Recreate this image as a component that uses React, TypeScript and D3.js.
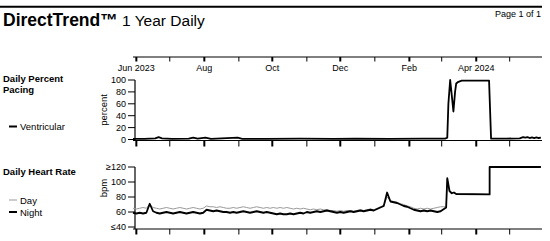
import React from 'react';
import * as d3 from 'd3';

// days counted from 29 May 2023
const hrDays = [
  0, 3, 6, 9, 12, 15, 18, 21, 24, 27,
  30, 33, 36, 39, 42, 45, 48, 51, 54, 57,
  60, 63, 66, 69, 72, 75, 78, 81, 84, 87,
  90, 93, 96, 99, 102, 105, 108, 111, 114, 117,
  120, 123, 126, 129, 132, 135, 138, 141, 144, 147,
  150, 153, 156, 159, 162, 165, 168, 171, 174, 177,
  180, 183, 186, 189, 192, 195, 198, 201, 204, 207,
  210, 213, 216, 219, 222, 225, 228, 231, 234, 237,
  240, 243, 246, 249, 252, 255, 258, 261, 264, 267,
  270, 273, 276, 279,
  281, 282, 284, 286, 288, 290, 320, 320, 366,
];
const hrNight = [
  59, 58, 59, 58, 59, 71, 61, 59, 58, 59,
  60, 59, 58, 59, 60, 59, 58, 59, 60, 59,
  58, 59, 63, 62, 61, 62, 61, 60, 60, 59,
  60, 59, 60, 61, 60, 59, 60, 61, 60, 59,
  60, 59, 58, 57, 58, 57, 57, 58, 57, 58,
  59, 58, 60, 59, 60, 61, 60, 61, 62, 61,
  60, 59, 60, 59, 60, 61, 60, 61, 62, 61,
  62, 63, 62, 64, 66, 68, 86, 74, 73, 72,
  70, 68, 67, 65, 63, 62, 61, 62, 61, 62,
  61, 60, 61, 64,
  66, 105, 88, 85, 86, 84, 83.5, 120, 120,
];
const hrDay = [
  65, 64, 65, 66, 65, 70, 66, 65, 64, 65,
  66, 65, 64, 65, 66, 65, 64, 65, 66, 65,
  64, 65, 68, 67, 67, 66, 67, 66, 65, 65,
  66, 65, 66, 67, 66, 65, 66, 67, 66, 65,
  66, 65, 66, 65, 66, 65, 66, 65, 64, 65,
  64, 65, 64, 63, 64, 63, 64, 63, 63, 62,
  62, 61, 62, 61, 62, 62, 61, 62, 63, 62,
  63, 64, 63, 65, 67, 69, 80, 75, 74, 73,
  71, 70, 68, 67, 65, 64, 65, 64, 65, 64,
  65, 66, 67, 67,
  67, 104, 88, 85, 86, 84, 83.5, 120, 120,
];

const pacingDays = [
  0, 10, 20, 23, 26, 35, 50, 54, 58, 65, 70, 94, 98, 120, 150, 180, 200, 230, 260, 280,
  282, 283, 284.6, 286, 287.5, 289, 290, 292, 295, 310, 319.5, 321.3,
  335, 347, 350, 352, 354, 356, 358, 360, 362, 364, 366,
];
const pacingValues = [
  1, 1, 2, 4, 2, 1, 1.5, 3, 1.5, 3, 1, 3, 1, 1, 1.5, 1, 1.5, 1, 1.5, 1.5,
  3, 60, 100, 75, 47, 80, 94, 97, 99, 99, 99, 1.5,
  1.5, 2, 4, 3, 4, 2.5, 3.5, 2.5, 3.5, 2.5, 3,
];

const monthLabels = ['Jun 2023', '', 'Aug', '', 'Oct', '', 'Dec', '', 'Feb', '', 'Apr 2024', ''];
const pctTicks = [0, 20, 40, 60, 80, 100];
const bpmTicks = [40, 60, 80, 100, 120];
const bpmTickLabels = ['≤40', '60', '80', '100', '≥120'];

const font = "Arial, 'Liberation Sans', sans-serif";
const start = new Date(2023, 4, 29);
const end = new Date(2024, 4, 30);
const toDate = (d: number) => new Date(start.getTime() + d * 86400000);

export default function App() {
  const x = d3.scaleTime().domain([start, end]).range([133, 542]);
  const yPct = d3.scaleLinear().domain([0, 100]).range([139.5, 80]);
  const yBpm = d3.scaleLinear().domain([40, 120]).range([227, 167]);
  const months = d3.timeMonth.range(new Date(2023, 5, 1), end);

  const pacingLine = d3.line<number>()
    .x((d) => x(toDate(d)))
    .y((_, i) => yPct(pacingValues[i]));
  const dayLine = d3.line<number>()
    .x((d) => x(toDate(d)))
    .y((_, i) => yBpm(hrDay[i]));
  const nightLine = d3.line<number>()
    .x((d) => x(toDate(d)))
    .y((_, i) => yBpm(hrNight[i]));

  const xAxis = (y: number, len: number, labels: boolean) => (
    <g>
      <line x1={133} x2={542} y1={y} y2={y} stroke="#000" strokeWidth={1} />
      {months.map((m, i) => (
        <g key={i}>
          <line x1={x(m)} x2={x(m)} y1={y} y2={y + len} stroke="#000" strokeWidth={i % 2 === 0 ? 2 : 1} />
          {labels && monthLabels[i] && (
            <text x={x(m)} y={y + 14} textAnchor="middle" fontSize={9}>{monthLabels[i]}</text>
          )}
        </g>
      ))}
    </g>
  );

  const yAxis = (scale: d3.ScaleLinear<number, number>, ticks: number[], labels: string[], bottom: number) => (
    <g>
      <line x1={135} x2={135} y1={scale(ticks[ticks.length - 1])} y2={bottom} stroke="#000" strokeWidth={1.2} />
      {ticks.map((t, i) => (
        <g key={t}>
          <line x1={128} x2={135} y1={scale(t)} y2={scale(t)} stroke="#000" strokeWidth={1} />
          <text x={126} y={scale(t) + 3} textAnchor="end" fontSize={9}>{labels[i]}</text>
        </g>
      ))}
    </g>
  );

  return (
    <svg width={550} height={241} style={{ position: 'absolute', left: 0, top: 0 }} fontFamily={font}>
      <rect width={550} height={241} fill="#fff" />
      <line x1={0} x2={542} y1={6.7} y2={6.7} stroke="#000" strokeWidth={2} />
      <text x={3} y={26}>
        <tspan fontWeight="bold" fontSize={17.5}>DirectTrend™</tspan>
        <tspan fontSize={15.5}> 1 Year Daily</tspan>
      </text>
      <text x={541} y={17} textAnchor="end" fontSize={9}>Page 1 of 1</text>

      {xAxis(57, 4.5, true)}

      {/* pacing panel */}
      <text x={3} y={82} fontSize={9.5} fontWeight="bold">Daily Percent</text>
      <text x={3} y={93} fontSize={9.5} fontWeight="bold">Pacing</text>
      <line x1={9} x2={17} y1={126.5} y2={126.5} stroke="#000" strokeWidth={2} />
      <text x={20} y={130} fontSize={9.5}>Ventricular</text>
      <text transform="translate(107,110) rotate(-90)" textAnchor="middle" fontSize={9.5}>percent</text>
      {yAxis(yPct, pctTicks, pctTicks.map(String), 140.5)}
      {xAxis(140.5, 6, false)}
      <path d={pacingLine(pacingDays) ?? ''} fill="none" stroke="#000" strokeWidth={1.8} strokeLinejoin="round" />

      {/* heart rate panel */}
      <text x={3} y={175} fontSize={9.5} fontWeight="bold">Daily Heart Rate</text>
      <line x1={9} x2={17} y1={200} y2={200} stroke="#999" strokeWidth={1} />
      <text x={20} y={204} fontSize={9.5}>Day</text>
      <line x1={9} x2={17} y1={212} y2={212} stroke="#000" strokeWidth={2} />
      <text x={20} y={216} fontSize={9.5}>Night</text>
      <text transform="translate(107,188) rotate(-90)" textAnchor="middle" fontSize={9.5}>bpm</text>
      {yAxis(yBpm, bpmTicks, bpmTickLabels, 229)}
      {xAxis(229, 5.5, false)}
      <path d={dayLine(hrDays) ?? ''} fill="none" stroke="#999" strokeWidth={1} />
      <path d={nightLine(hrDays) ?? ''} fill="none" stroke="#000" strokeWidth={1.8} strokeLinejoin="round" />
    </svg>
  );
}
